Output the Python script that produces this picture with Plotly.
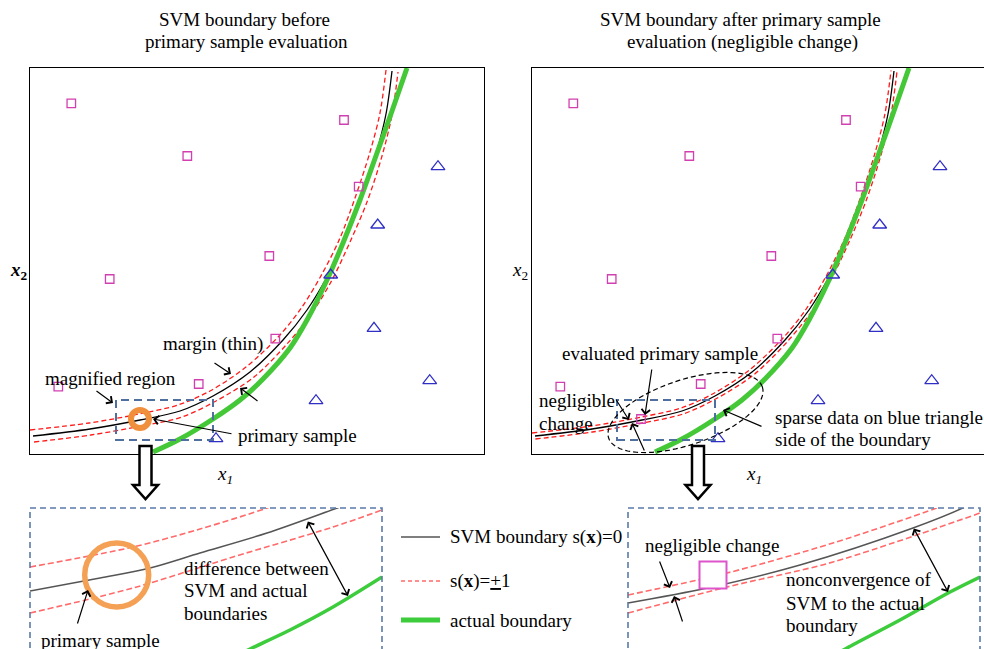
import numpy as np
import plotly.graph_objects as go

W, H = 984, 649
FONT = "Liberation Serif"

# ---------------- data (panel-local units) ----------------
# main panels: x1 in [0, 454], x2 in [0, 386]
SQ_X = [41.3, 314, 157.3, 328.7, 239.3, 79.7, 245.3, 28.3, 168.7]
SQ_Y = [350.7, 334, 298, 267.3, 198, 175, 115.3, 67.3, 70]
TRI_X = [408, 347.7, 300.7, 344, 399.7, 286, 186]
TRI_Y = [287.3, 229, 179, 125.7, 73.3, 53.3, 15.3]
PRIMARY_X = [110]
PRIMARY_Y = [35]
EVAL_X = [109]
EVAL_Y = [35]

ACT_X = [123, 150, 183, 210, 233, 260, 277, 297, 313, 330, 347, 362, 377]
ACT_Y = [2, 15, 35, 54, 75, 106, 134, 174, 211, 254, 301, 343, 386]

SVM_X = [3, 60, 110, 150, 183, 220, 253, 277, 297, 315, 331, 346, 356, 362]
SVM_Y = [18, 25, 34, 43, 58, 82, 114, 144, 177, 214, 254, 300, 340, 383]

# before evaluation: margin lines s(x)=+1 / -1
UP1_X = [0, 59, 109, 148, 180, 216, 249, 272, 292, 310, 325, 340, 350, 356]
UP1_Y = [24, 31, 40, 49, 63, 87, 118, 147, 180, 216, 256, 302, 341, 384]
LO1_X = [4, 61, 111, 152, 186, 224, 257, 282, 302, 320, 337, 352, 362, 368]
LO1_Y = [12, 19, 28, 37, 53, 77, 110, 141, 174, 212, 252, 298, 339, 382]

# after evaluation: margin lines
UP2_X = [0, 59.5, 109.5, 149, 181.5, 218, 251, 274.5, 294.5, 312.5, 328, 343, 353, 359]
UP2_Y = [21, 28, 37, 46, 60.5, 84.5, 116, 145.5, 178.5, 215, 255, 301, 340.5, 383.5]
LO2_X = [3.4, 60.5, 110.5, 151, 184.5, 222, 255, 279.5, 299.5, 317.5, 334, 349, 359, 365]
LO2_Y = [15, 22, 31, 40, 55.5, 79.5, 112, 142.5, 175.5, 213, 253, 299, 339.5, 382.5]

# magnified panels: x in [0, 352], y in [0, 141]
ML_SVM_X = [0, 70, 120, 170, 237, 310, 352]
ML_SVM_Y = [58, 71, 81, 96, 116, 142, 157]
ML_UP_X = [0, 103, 170, 240, 300]
ML_UP_Y = [82, 102, 120, 142, 165]
ML_LO_X = [0, 103, 203, 303, 352]
ML_LO_Y = [36, 61, 92, 122, 139]
ML_ACT_X = [200, 220, 260, 303, 352]
ML_ACT_Y = [-10, 0, 19, 42, 72]
ML_PRIMARY_X = [86.7]
ML_PRIMARY_Y = [74]

MR_SVM_X = [0, 79, 172, 285, 337, 352]
MR_SVM_Y = [46, 61, 84, 121, 142, 150]
MR_UP_X = [0, 99, 205, 309, 352]
MR_UP_Y = [54, 76, 106, 141, 157]
MR_LO_X = [0, 99, 205, 352]
MR_LO_Y = [36, 62, 87, 136]
MR_ACT_X = [200, 219, 272, 322, 352]
MR_ACT_Y = [-10, 1, 29, 57, 72]
MR_EVAL_X = [85]
MR_EVAL_Y = [74]

# ---------------- styles ----------------
GREEN = "#44c838"
RED = "#ff1a1a"
MAG = "#d23fb0"
BLUE = "#2f2fc8"
ORANGE = "#f0903c"
DASHBLUE = "#4f6f9f"

fig = go.Figure()

def line(x, y, ax, color, width, dash="solid"):
    fig.add_trace(go.Scatter(x=x, y=y, mode="lines", xaxis=ax[0], yaxis=ax[1],
                             line=dict(color=color, width=width, dash=dash, shape="spline", smoothing=0.9),
                             hoverinfo="skip"))

def pts(x, y, ax, symbol, size, color, lw, fill=None):
    fig.add_trace(go.Scatter(x=x, y=y, mode="markers", xaxis=ax[0], yaxis=ax[1],
                             marker=dict(symbol=symbol, size=size, color=fill or color,
                                         line=dict(color=color, width=lw)),
                             hoverinfo="skip"))

A1, A2, A3, A4 = ("x", "y"), ("x2", "y2"), ("x3", "y3"), ("x4", "y4")

# left main panel
line(UP1_X, UP1_Y, A1, RED, 1.3, "5px,3px")
line(LO1_X, LO1_Y, A1, RED, 1.3, "5px,3px")
line(SVM_X, SVM_Y, A1, "black", 1.3)
line(ACT_X, ACT_Y, A1, GREEN, 5)
pts(SQ_X, SQ_Y, A1, "square-open", 8.5, MAG, 1.3)
pts(TRI_X, TRI_Y, A1, "triangle-up-open", 12, BLUE, 1.3)
pts(PRIMARY_X, PRIMARY_Y, A1, "circle-open", 18, ORANGE, 6)

# right main panel
line(UP2_X, UP2_Y, A2, RED, 1.3, "5px,3px")
line(LO2_X, LO2_Y, A2, RED, 1.3, "5px,3px")
line(SVM_X, SVM_Y, A2, "black", 1.3)
line(ACT_X, ACT_Y, A2, GREEN, 5)
pts(SQ_X, SQ_Y, A2, "square-open", 8.5, MAG, 1.3)
pts(TRI_X, TRI_Y, A2, "triangle-up-open", 12, BLUE, 1.3)
pts(EVAL_X, EVAL_Y, A2, "square-open", 8.5, MAG, 1.3)

# magnified left
line(ML_ACT_X, ML_ACT_Y, A3, "#3ccc3c", 3.5)
line(ML_UP_X, ML_UP_Y, A3, "#ff6a6a", 1.6, "6px,3px")
line(ML_LO_X, ML_LO_Y, A3, "#ff6a6a", 1.6, "6px,3px")
line(ML_SVM_X, ML_SVM_Y, A3, "#555555", 1.5)
pts(ML_PRIMARY_X, ML_PRIMARY_Y, A3, "circle-open", 64, "#f4a055", 5.5)

# magnified right
line(MR_ACT_X, MR_ACT_Y, A4, "#3ccc3c", 3.5)
line(MR_UP_X, MR_UP_Y, A4, "#ff6a6a", 1.6, "6px,3px")
line(MR_LO_X, MR_LO_Y, A4, "#ff6a6a", 1.6, "6px,3px")
line(MR_SVM_X, MR_SVM_Y, A4, "#555555", 1.5)
pts(MR_EVAL_X, MR_EVAL_Y, A4, "square", 27, "#dd55cc", 2, fill="white")

# ---------------- axes ----------------
def dom_x(a, b):
    return [a / W, min(b / W, 1.0)]

def dom_y(top, bottom):
    return [max(1 - bottom / H, 0.0), 1 - top / H]

base = dict(showgrid=False, zeroline=False, showticklabels=False, ticks="", fixedrange=True)
frame = dict(showline=True, linecolor="black", linewidth=1.4)

fig.update_layout(
    xaxis=dict(domain=dom_x(30, 484), range=[0, 454], anchor="y", mirror=True, **frame, **base),
    yaxis=dict(domain=dom_y(68, 454), range=[0, 386], anchor="x", mirror=True, **frame, **base),
    xaxis2=dict(domain=dom_x(532, 984), range=[0, 452], anchor="y2", mirror=True, **frame, **base),
    yaxis2=dict(domain=dom_y(68, 454), range=[0, 386], anchor="x2", mirror=False, **frame, **base),
    xaxis3=dict(domain=dom_x(30, 382), range=[0, 352], anchor="y3", **base),
    yaxis3=dict(domain=dom_y(508, 649), range=[0, 141], anchor="x3", **base),
    xaxis4=dict(domain=dom_x(628, 980), range=[0, 352], anchor="y4", **base),
    yaxis4=dict(domain=dom_y(508, 649), range=[0, 141], anchor="x4", **base),
)

# ---------------- decorations (page pixel positions) ----------------
def P(x, y):
    return x / W, 1 - y / H

annos = []
shapes = []

def text(t, x, y, anchor="left", size=19):
    px, py = P(x, y)
    annos.append(dict(text=t, x=px, y=py, xref="paper", yref="paper", xanchor=anchor,
                      yanchor="middle", showarrow=False, font=dict(family=FONT, size=size, color="black")))

def arrow(tail, head, both=False):
    hx, hy = P(*head)
    d = dict(text="", x=hx, y=hy, xref="paper", yref="paper", ax=tail[0] - head[0], ay=tail[1] - head[1],
             axref="pixel", ayref="pixel", showarrow=True, arrowhead=4, arrowsize=1.4, arrowwidth=1.2,
             arrowcolor="black", standoff=0, startstandoff=0)
    if both:
        d.update(arrowside="end+start", startarrowhead=4, startarrowsize=1.4)
    annos.append(d)

def path(points, close=True):
    s = "M " + " L ".join("%.5f,%.5f" % P(x, y) for x, y in points)
    return s + (" Z" if close else "")

# titles
text("SVM boundary before", 244, 19, "center")
text("primary sample evaluation", 246.5, 42, "center")
text("SVM boundary after primary sample", 740.5, 19, "center")
text("evaluation (negligible change)", 742.5, 42, "center")

# axis labels
text("<b><i>x</i><sub>2</sub></b>", 8, 271)
text("<i>x</i><sub>2</sub>", 510, 271)
text("<i>x<sub>1</sub></i>", 215, 475)
text("<i>x<sub>1</sub></i>", 744, 475)

# left main annotations
text("margin (thin)", 161, 344)
arrow((213, 362), (231, 374))
arrow((259, 402), (240, 388))
text("magnified region", 43, 378)
arrow((95, 390), (113, 403))
text("primary sample", 236, 435)
arrow((233, 434), (153, 419))

# right main annotations
text("evaluated primary sample", 560, 353)
arrow((652, 368), (645, 415))
text("negligible", 537, 400)
text("change", 537, 423)
arrow((615, 398), (629, 420))
arrow((645, 452), (632, 423))
text("sparse data on blue triangle", 773, 417)
text("side of the boundary", 773, 439)
arrow((763, 427), (723, 410))

# magnified-left annotations
text("difference between", 182, 568)
text("SVM and actual", 182, 590)
text("boundaries", 182, 613)
arrow((307, 520), (348, 596), both=True)
text("primary sample", 39, 640)
arrow((77, 625), (88, 590))

# magnified-right annotations
text("negligible change", 643, 545)
arrow((659, 560), (670, 588))
arrow((683, 623), (674, 596))
text("nonconvergence of", 784, 579)
text("SVM to the actual", 784, 603)
text("boundary", 784, 625)
arrow((913, 527), (948, 592), both=True)

# legend
text("SVM boundary s(<b>x</b>)=0", 448, 537)
text("s(<b>x</b>)=<u>+</u>1", 448, 581)
text("actual boundary", 448, 620)
for (y, col, w, dash) in [(537, "#555555", 1.5, "solid"), (581, "#ff6a6a", 1.3, "4px,3px"), (620, "#3ccc3c", 5, "solid")]:
    x0, y0 = P(401, y)
    x1, _ = P(440, y)
    shapes.append(dict(type="line", xref="paper", yref="paper", x0=x0, x1=x1, y0=y0, y1=y0,
                       line=dict(color=col, width=w, dash=dash)))

# dashed magnified-region rectangles in main panels
for (a, b, c, d) in [(116, 400, 213, 440), (617, 400, 715, 440)]:
    x0, y0 = P(a, d)
    x1, y1 = P(c, b)
    shapes.append(dict(type="rect", xref="paper", yref="paper", x0=x0, y0=y0, x1=x1, y1=y1,
                       line=dict(color=DASHBLUE, width=2, dash="8px,5px")))

# dashed frames of magnified panels
for (a, c) in [(30, 382), (628, 980)]:
    x0, y0 = P(a, 660)
    x1, y1 = P(c, 508)
    shapes.append(dict(type="rect", xref="paper", yref="paper", x0=x0, y0=y0, x1=x1, y1=y1,
                       line=dict(color="#5a7aa8", width=1.6, dash="6px,4px")))

# dashed ellipse (right panel)
cx, cy, ea, eb, th = 685.5, 412.5, 81, 32.5, np.deg2rad(18.4)
tt = np.linspace(0, 2 * np.pi, 80)
ell = [(cx + ea * np.cos(th) * np.cos(t) - eb * np.sin(th) * np.sin(t),
        cy - (ea * np.sin(th) * np.cos(t) + eb * np.cos(th) * np.sin(t))) for t in tt]
shapes.append(dict(type="path", xref="paper", yref="paper", path=path(ell),
                   line=dict(color="black", width=1.2, dash="5px,3px")))

# hollow down arrows
for c in [145.5, 698]:
    pts_ = [(c - 6, 446), (c - 6, 485), (c - 12.5, 485), (c, 499), (c + 12.5, 485), (c + 6, 485), (c + 6, 446)]
    shapes.append(dict(type="path", xref="paper", yref="paper", path=path(pts_),
                       line=dict(color="black", width=2.5), fillcolor="white", layer="above"))

fig.update_layout(
    width=W, height=H, margin=dict(l=0, r=0, t=0, b=0),
    paper_bgcolor="white", plot_bgcolor="rgba(0,0,0,0)",
    showlegend=False, annotations=annos, shapes=shapes,
    font=dict(family=FONT),
)

fig.write_html("out.html", config={"displayModeBar": False},
               post_script="document.body.style.margin='0';document.body.style.overflow='hidden';")
